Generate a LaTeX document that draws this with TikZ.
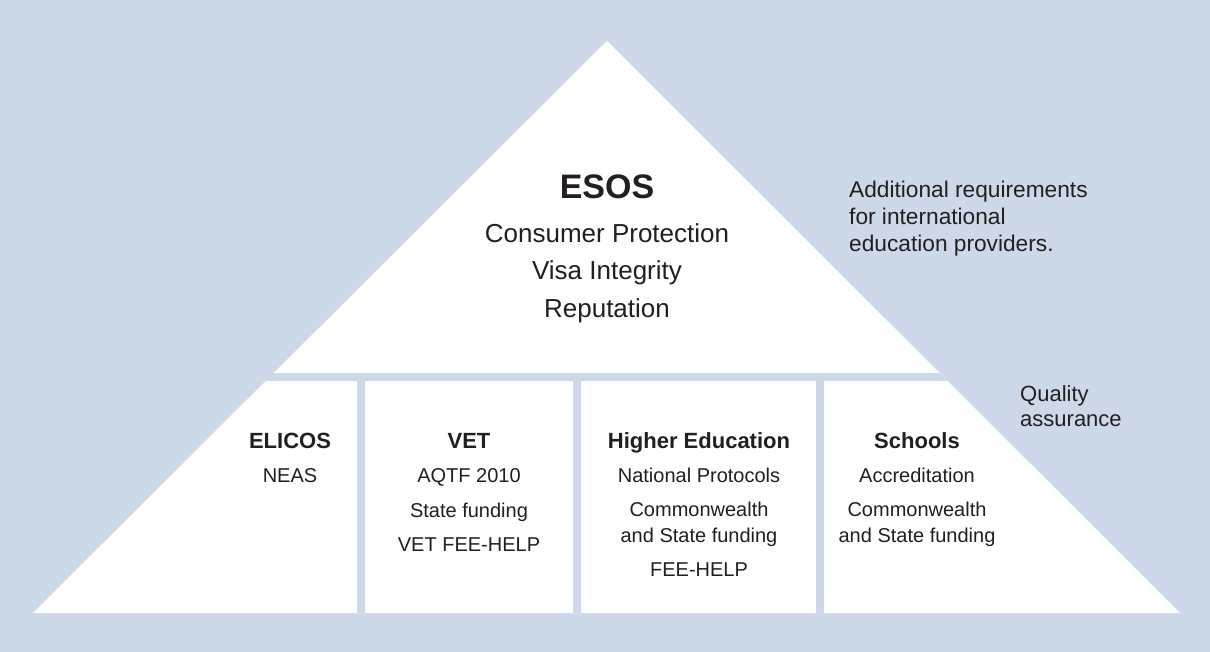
\documentclass[tikz,border=0pt]{standalone}
\usepackage{fontspec}
\setmainfont{Liberation Sans}
\usetikzlibrary{positioning}
\definecolor{esosblue}{RGB}{205,217,232}
\definecolor{esosink}{RGB}{35,31,32}

\tikzset{
  title/.style={font=\bfseries\fontsize{34}{40}\selectfont, text=esosink, text height=25.5pt, text depth=8.5pt, inner sep=0pt},
  goal/.style={font=\fontsize{26}{30}\selectfont, text=esosink, text height=19.5pt, text depth=6.5pt, inner sep=0pt},
  sector/.style={font=\bfseries\fontsize{22}{26}\selectfont, text=esosink, text height=16.5pt, text depth=5.5pt, inner sep=0pt},
  item/.style={font=\fontsize{20}{24}\selectfont, text=esosink, text height=15pt, text depth=5pt, inner sep=0pt},
  note/.style={font=\fontsize{22.7}{27}\selectfont, text=esosink, align=left, anchor=north west, inner sep=0pt},
}

\begin{document}
\begin{tikzpicture}[x=1pt,y=-1pt,node distance=37pt,on grid]
  \fill[esosblue] (0,0) rectangle (1210,652);
  \fill[white] (33,613) -- (607,41) -- (1180,613) -- cycle;
  % band and dividers
  \fill[esosblue] (0,373) rectangle (1210,381);
  \fill[esosblue] (357,381) rectangle (365,613);
  \fill[esosblue] (573,381) rectangle (581,613);
  \fill[esosblue] (816,381) rectangle (824,613);

  \node[title] (esos) at (607,190.5) {ESOS};
  \node[goal] (consumer) [below=46pt of esos] {Consumer Protection};
  \node[goal] (visa) [below=of consumer] {Visa Integrity};
  \node[goal] (reputation) [below=of visa] {Reputation};

  \node[note] (additional) at (849,181) {Additional requirements\\for international\\education providers.};
  \node[note, font=\fontsize{22}{25}\selectfont] (quality) at (1020,385) {Quality\\assurance};

  \node[sector] (elicos) at (290,442.5) {ELICOS};
  \node[item] (neas) [below=34.5pt of elicos] {NEAS};

  \node[sector] (vet) at (469,442.5) {VET};
  \node[item] (aqtf) [below=34.5pt of vet] {AQTF 2010};
  \node[item] (vetstate) [below=35pt of aqtf] {State funding};
  \node[item] (vetfee) [below=34pt of vetstate] {VET FEE-HELP};

  \node[sector] (higher) at (699,442.5) {Higher Education};
  \node[item] (protocols) [below=34.5pt of higher] {National Protocols};
  \node[item] (hecommon) [below=34pt of protocols] {Commonwealth};
  \node[item] (hestate) [below=26pt of hecommon] {and State funding};
  \node[item] (hefee) [below=34pt of hestate] {FEE-HELP};

  \node[sector] (schools) at (917,442.5) {Schools};
  \node[item] (accred) [below=34.5pt of schools] {Accreditation};
  \node[item] (sccommon) [below=34pt of accred] {Commonwealth};
  \node[item] (scstate) [below=26pt of sccommon] {and State funding};
\end{tikzpicture}
\end{document}
